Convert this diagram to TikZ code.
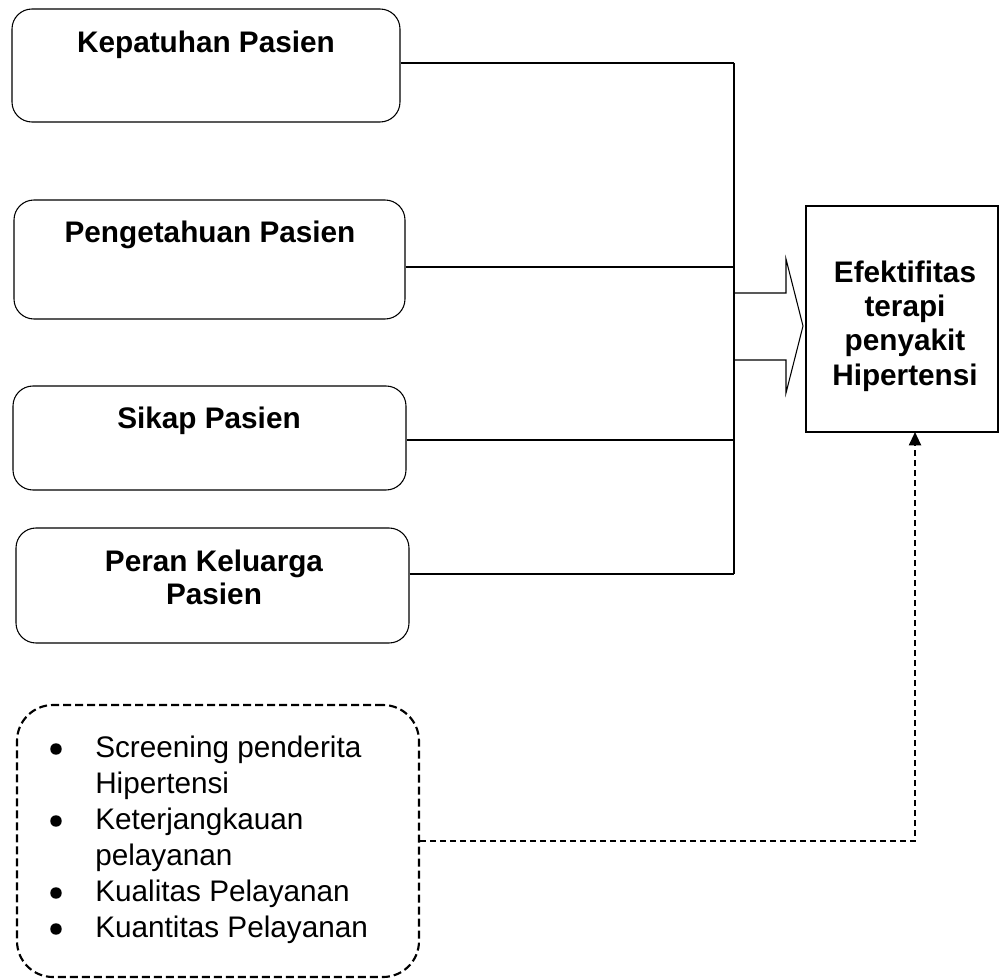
\documentclass[tikz,border=0pt]{standalone}
\usepackage{fontspec}
\setmainfont{Liberation Sans}
\usetikzlibrary{positioning, fit, arrows.meta, calc}
\tikzset{
  faktorbox/.style={draw=black, line width=0.8pt, rounded corners=15pt, inner sep=0pt},
  hasilbox/.style={draw=black, line width=0.8pt, inner sep=0pt},
  lainbox/.style={draw=black, line width=1.6pt, dash pattern=on 6pt off 3pt, rounded corners=27pt, inner sep=0pt},
  judul/.style={font=\fontsize{22.3}{24.75}\selectfont\bfseries, align=center, inner sep=0pt},
  garis/.style={line width=0.8pt},
  putus/.style={line width=1.5pt, dash pattern=on 4.5pt off 3pt}
}

\begin{document}
\begin{tikzpicture}[x=0.75pt, y=-0.75pt]
  \useasboundingbox (0,0) rectangle (999,980);

  % 1. Kotak faktor di kiri
  \node[faktorbox, fit={(12,9) (400,122)}] (kepatuhan) {};
  \node[faktorbox, fit={(14,200) (405,319)}] (pengetahuan) {};
  \node[faktorbox, fit={(13,386) (406,490)}] (sikap) {};
  \node[faktorbox, fit={(16,528) (409,643)}] (keluarga) {};

  \node[judul, anchor=base] (tkepatuhan) at (206,53) {Kepatuhan Pasien};
  \node[judul, anchor=base] (tpengetahuan) at (210,243) {Pengetahuan Pasien};
  \node[judul, anchor=base] (tsikap) at (209,428) {Sikap Pasien};
  \node[judul, anchor=north] (tkeluarga) at (214,550) {Peran Keluarga\\Pasien};

  % 2. Garis penghubung ke tulang vertikal
  \coordinate (c1) at (734,63);
  \coordinate (c2) at (734,267);
  \coordinate (c3) at (734,440);
  \coordinate (c4) at (734,574);
  \draw[garis] (kepatuhan.east |- c1) -- (c1);
  \draw[garis] (pengetahuan.east |- c2) -- (c2);
  \draw[garis] (sikap.east |- c3) -- (c3);
  \draw[garis] (keluarga.east |- c4) -- (c4);
  \draw[garis] (c1) -- (c4);

  % 3. Panah blok
  \draw[garis] (734,293) -- (786,293) -- (786,259) -- (803,326) -- (786,393) -- (786,360) -- (734,360);

  % 4. Kotak hasil
  \node[hasilbox, fit={(806,206) (998,432)}] (efek) {};
  \node[judul, font=\fontsize{22.3}{25.75}\selectfont\bfseries] (tefek) at (905,326) {Efektifitas\\terapi\\penyakit\\Hipertensi};

  % 5. Faktor lain (garis putus-putus)
  \node[lainbox, fit={(17,705) (419,977)}] (lain) {};
  \node[anchor=north west, inner sep=0pt, font=\fontsize{22.3}{27}\selectfont] (daftar) at (95,732) {%
    \begin{tabular}{@{}l@{}}
      Screening penderita\\
      Hipertensi\\
      Keterjangkauan\\
      pelayanan\\
      Kualitas Pelayanan\\
      Kuantitas Pelayanan
    \end{tabular}};
  \foreach \yb in {749, 821, 893, 929}
    \fill (56,\yb) circle (4.3pt);

  \coordinate (masuk) at (915,432);
  \draw[putus, -{Triangle[width=9pt, length=10pt]}] (lain.east) -| (masuk);

\end{tikzpicture}
\end{document}
